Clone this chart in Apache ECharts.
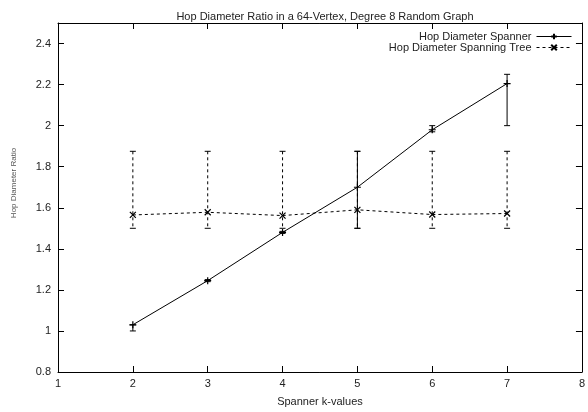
<!DOCTYPE html>
<html>
<head>
<meta charset="utf-8">
<script src="https://cdn.jsdelivr.net/npm/echarts@6/dist/echarts.min.js"></script>
<style>
  html, body { margin: 0; padding: 0; background: #fff; }
  #chart { width: 588px; height: 412px; }
</style>
</head>
<body>
<div id="chart"></div>
<script>
// k values on the x axis
const kValues = [2, 3, 4, 5, 6, 7]
// hop diameter ratio, spanner
const spannerMean = [1.03, 1.245, 1.48, 1.70, 1.98, 2.205]
const spannerLow = [1.0, 1.24, 1.475, 1.5, 1.97, 2.0]
const spannerHigh = [1.03, 1.25, 1.485, 1.875, 2.0, 2.25]
// hop diameter ratio, spanning tree
const treeMean = [1.565, 1.578, 1.562, 1.59, 1.567, 1.572]
const treeLow = [1.5, 1.5, 1.5, 1.5, 1.5, 1.5]
const treeHigh = [1.875, 1.875, 1.875, 1.875, 1.875, 1.875]
// axis ticks
const xTicks = [1, 2, 3, 4, 5, 6, 7, 8]
const yTicks = [0.8, 1, 1.2, 1.4, 1.6, 1.8, 2, 2.2, 2.4]

const FONT = 'Liberation Sans'
const plusPath = 'path://M0,5L10,5M5,0L5,10'
const crossPath = 'path://M0,0L10,10M10,0L0,10'

const chart = echarts.init(document.getElementById('chart'))

function errorBar (dashed) {
    return function (params, api) {
        const top = api.coord([api.value(0), api.value(2)])
        const bot = api.coord([api.value(0), api.value(1)])
        const cap = 3
        const style = { stroke: '#000', lineWidth: 1, lineDash: dashed ? [3, 3] : null }
        return {
            type: 'group',
            children: [
                { type: 'line', shape: { x1: top[0], y1: top[1], x2: bot[0], y2: bot[1] }, style: style },
                { type: 'line', shape: { x1: top[0] - cap, y1: top[1], x2: top[0] + cap, y2: top[1] }, style: { stroke: '#000', lineWidth: 1 } },
                { type: 'line', shape: { x1: bot[0] - cap, y1: bot[1], x2: bot[0] + cap, y2: bot[1] }, style: { stroke: '#000', lineWidth: 1 } }
            ]
        }
    }
}

const axisCommon = {
    axisLine: { show: true, onZero: false, lineStyle: { color: '#000', width: 1 } },
    axisTick: { show: true, inside: true, length: 6, lineStyle: { color: '#000' } },
    splitLine: { show: false }
}

const option = {
    animation: false,
    backgroundColor: '#fff',
    textStyle: { fontFamily: FONT },
    title: {
        text: 'Hop Diameter Ratio in a 64-Vertex, Degree 8 Random Graph',
        left: 320, top: 6, textAlign: 'center',
        textStyle: { fontFamily: FONT, fontSize: 11, fontWeight: 'normal', color: '#222' }
    },
    legend: {
        data: ['Hop Diameter Spanner', 'Hop Diameter Spanning Tree'],
        orient: 'vertical',
        align: 'right',
        right: 11, top: 26,
        itemWidth: 35, itemHeight: 7, itemGap: 0,
        lineStyle: { width: 1 },
        textStyle: { fontFamily: FONT, fontSize: 11, color: '#222', lineHeight: 10 }
    },
    grid: { left: 58, right: 5, top: 23, bottom: 34 },
    xAxis: [
        Object.assign({}, axisCommon, {
            type: 'value', min: 1, max: 8, interval: 1,
            name: 'Spanner k-values', nameLocation: 'middle', nameGap: 24,
            nameTextStyle: { fontFamily: FONT, fontSize: 11, color: '#222' },
            axisLabel: { margin: 6, fontFamily: FONT, fontSize: 11, color: '#222',
                formatter: v => xTicks.includes(v) ? String(v) : '' }
        }),
        Object.assign({}, axisCommon, {
            type: 'value', min: 1, max: 8, interval: 1, position: 'top',
            axisLabel: { show: false }
        })
    ],
    yAxis: [
        Object.assign({}, axisCommon, {
            type: 'value', min: 0.8, max: 2.5, interval: 0.2,
            axisLabel: { margin: 7, fontFamily: FONT, fontSize: 11, color: '#222',
                formatter: v => {
                    const r = +v.toFixed(1)
                    return yTicks.includes(r) ? String(r) : ''
                } }
        }),
        Object.assign({}, axisCommon, {
            type: 'value', min: 0.8, max: 2.5, interval: 0.2, position: 'right',
            axisLabel: { show: false }
        })
    ],
    graphic: [{
        type: 'text',
        x: 14, y: 183, rotation: Math.PI / 2,
        style: { text: 'Hop Diameter Ratio', font: '8px ' + FONT, fill: '#555',
            textAlign: 'center', textVerticalAlign: 'middle' }
    }],
    series: [
        {
            name: 'Hop Diameter Spanner', type: 'line',
            data: kValues.map((k, i) => [k, spannerMean[i]]),
            symbol: plusPath, symbolSize: 7,
            itemStyle: { color: '#000', borderWidth: 1.2, borderColor: '#000' },
            lineStyle: { color: '#000', width: 1 }
        },
        {
            name: 'Hop Diameter Spanning Tree', type: 'line',
            data: kValues.map((k, i) => [k, treeMean[i]]),
            symbol: crossPath, symbolSize: 6,
            itemStyle: { color: '#000', borderWidth: 1.2, borderColor: '#000' },
            lineStyle: { color: '#000', width: 1, type: [3, 3] }
        },
        {
            type: 'custom', renderItem: errorBar(false),
            data: kValues.map((k, i) => [k, spannerLow[i], spannerHigh[i]]),
            z: 3
        },
        {
            type: 'custom', renderItem: errorBar(true),
            data: kValues.map((k, i) => [k, treeLow[i], treeHigh[i]]),
            z: 3
        }
    ]
}

chart.setOption(option)
</script>
</body>
</html>
